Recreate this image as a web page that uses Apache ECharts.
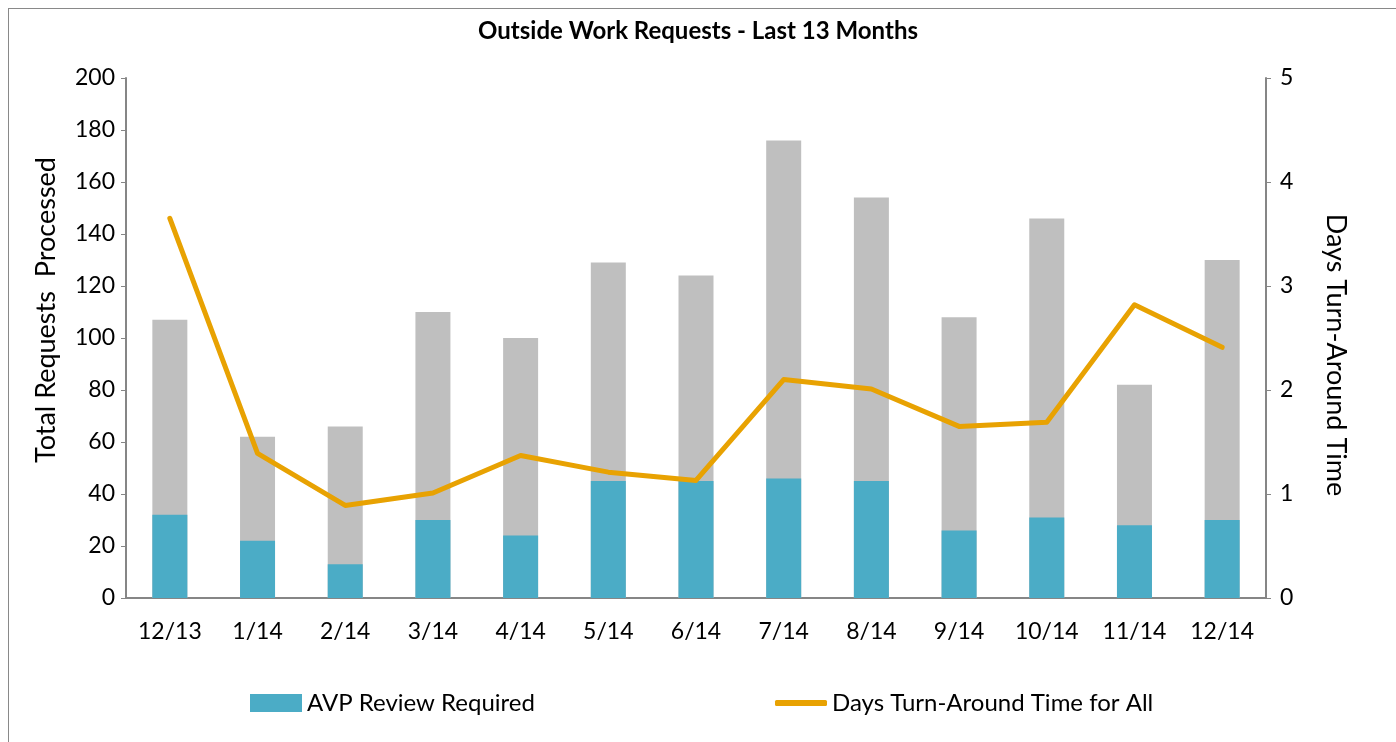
<!DOCTYPE html>
<html>
<head>
<meta charset="utf-8">
<script src="https://cdn.jsdelivr.net/npm/echarts@6/dist/echarts.min.js"></script>
<style>
  html, body { margin: 0; padding: 0; background: #fff; }
  #chartBox {
    position: absolute; left: 8px; top: 8px;
    width: 1400px; height: 760px;
    border: 1px solid #898989; box-sizing: border-box;
  }
  #chart { position: absolute; left: 0; top: 0; width: 1396px; height: 742px; }
</style>
</head>
<body>
<div id="chartBox"></div>
<div id="chart"></div>
<script>
// data
const months = ['12/13', '1/14', '2/14', '3/14', '4/14', '5/14', '6/14', '7/14', '8/14', '9/14', '10/14', '11/14', '12/14']
const totalRequests = [107, 62, 66, 110, 100, 129, 124, 176, 154, 108, 146, 82, 130]
const avpReview = [32, 22, 13, 30, 24, 45, 45, 46, 45, 26, 31, 28, 30]
const turnAroundDays = [3.65, 1.39, 0.89, 1.01, 1.37, 1.21, 1.13, 2.10, 2.01, 1.65, 1.69, 2.82, 2.41]

const font = 'Lato, "Open Sans", sans-serif'
const axisGrey = '#868686'
const legendText = { fontFamily: font, fontSize: 24, color: '#000' }

const option = {
  animation: false,
  textStyle: { fontFamily: font, color: '#000' },
  title: {
    text: 'Outside Work Requests - Last 13 Months',
    left: 'center',
    top: 14,
    textStyle: { fontFamily: font, fontSize: 24, fontWeight: 'bold', color: '#000' },
  },
  // two legends so the line key can be a flat stroke
  legend: [
    {
      left: 245,
      top: 686,
      itemWidth: 52,
      itemHeight: 18,
      itemGap: 4,
      textStyle: legendText,
      data: [{ name: 'AVP Review Required', icon: 'rect' }],
    },
    {
      left: 770,
      top: 686,
      itemWidth: 52,
      itemHeight: 6,
      textStyle: legendText,
      data: [{ name: 'Days Turn-Around Time for All', icon: 'roundRect' }],
    },
  ],
  grid: { left: 126, right: 130, top: 78, bottom: 144 },
  xAxis: {
    type: 'category',
    data: months,
    axisLine: { lineStyle: { color: axisGrey, width: 2 } },
    axisTick: { show: false },
    axisLabel: { fontFamily: font, fontSize: 23, color: '#000', margin: 22 },
  },
  yAxis: [
    {
      type: 'value',
      min: 0, max: 200, interval: 20,
      name: 'Total Requests  Processed',
      nameLocation: 'middle',
      nameGap: 66,
      nameTextStyle: { fontFamily: font, fontSize: 27, color: '#000', padding: [0, 0, 0, 56] },
      axisLine: { show: true, lineStyle: { color: axisGrey, width: 2 } },
      axisTick: { show: true, length: 5, lineStyle: { color: axisGrey } },
      axisLabel: { fontFamily: font, fontSize: 23, color: '#000', margin: 11 },
      splitLine: { show: false },
    },
    {
      type: 'value',
      min: 0, max: 5, interval: 1,
      name: 'Days Turn-Around Time',
      nameLocation: 'middle',
      nameRotate: -90,
      nameGap: 56,
      nameTextStyle: { fontFamily: font, fontSize: 27, color: '#000', padding: [0, 0, 0, 34] },
      axisLine: { show: true, lineStyle: { color: axisGrey, width: 2 } },
      axisTick: { show: true, length: 5, lineStyle: { color: axisGrey } },
      axisLabel: { fontFamily: font, fontSize: 23, color: '#000', margin: 14 },
      splitLine: { show: false },
    },
  ],
  series: [
    {
      name: 'Total Requests',
      type: 'bar',
      data: totalRequests,
      barWidth: 35,
      barGap: '-100%',
      itemStyle: { color: '#BFBFBF' },
      z: 1,
    },
    {
      name: 'AVP Review Required',
      type: 'bar',
      data: avpReview,
      barWidth: 35,
      itemStyle: { color: '#4BACC6' },
      z: 2,
    },
    {
      name: 'Days Turn-Around Time for All',
      type: 'line',
      yAxisIndex: 1,
      data: turnAroundDays,
      symbol: 'none',
      lineStyle: { color: '#E8A202', width: 5, cap: 'round', join: 'round' },
      itemStyle: { color: '#E8A202' },
      z: 3,
    },
  ],
}

const chartObj = echarts.init(document.getElementById('chart'))
chartObj.setOption(option)
</script>
</body>
</html>
